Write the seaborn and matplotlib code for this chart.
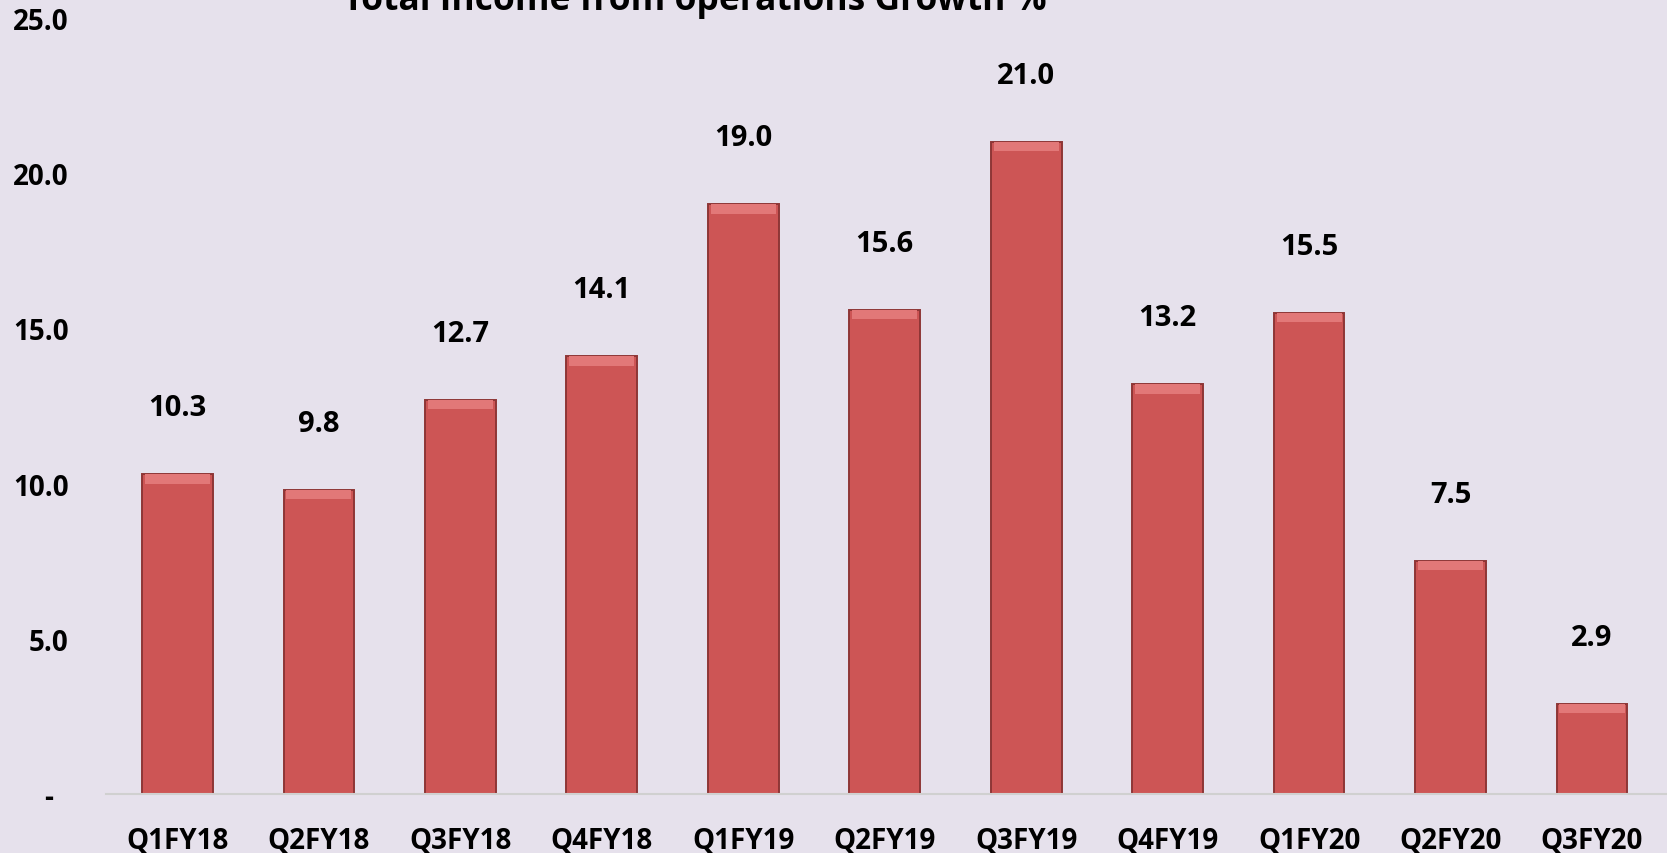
import matplotlib
matplotlib.use("Agg")
import matplotlib.pyplot as plt
import seaborn as sns
import numpy as np
import pandas as pd

quarters = ["Q1FY18", "Q2FY18", "Q3FY18", "Q4FY18", "Q1FY19", "Q2FY19",
            "Q3FY19", "Q4FY19", "Q1FY20", "Q2FY20", "Q3FY20"]
growth = [10.3, 9.8, 12.7, 14.1, 19.0, 15.6, 21.0, 13.2, 15.5, 7.5, 2.9]
yticks = [0, 5, 10, 15, 20, 25]
ytick_labels = ["-  ", "5.0", "10.0", "15.0", "20.0", "25.0"]
title = "Total Income from operations Growth %"

bg = "#E6E1EC"
bar_color = "#CD5555"

sns.set_theme(style="white")
plt.rcParams["font.family"] = ["Open Sans", "DejaVu Sans"]

df = pd.DataFrame({"quarter": quarters, "growth": growth})

fig = plt.figure(figsize=(16.67, 8.54), dpi=100, facecolor=bg)
ax = fig.add_axes([0.0636, 0.0691, 0.9364, 0.9087])
ax.set_facecolor(bg)

sns.barplot(data=df, x="quarter", y="growth", color=bar_color, width=0.5,
            saturation=1, edgecolor="#8E3636", linewidth=1.4, ax=ax)

# subtle bevel highlight at top of each bar
vals = np.array(growth)
xs = np.arange(len(quarters))
ax.bar(xs, 0.3, bottom=vals - 0.3, width=0.46, color="#E27878", linewidth=0, zorder=3)

for x, v in zip(xs, growth):
    ax.annotate(f"{v:.1f}", (x, v), xytext=(0, 48), textcoords="offset points",
                ha="center", va="center", fontsize=21, fontweight="bold", color="black")

ax.set_xlim(-0.505, 10.53)
ax.set_ylim(0, 25)
ax.set_yticks(yticks)
ax.set_yticklabels(ytick_labels, fontsize=20, fontweight="bold", color="black")
ax.set_xticklabels(quarters, fontsize=20, fontweight="bold", color="black")
ax.tick_params(axis="y", length=0, pad=27)
ax.tick_params(axis="x", length=0, pad=23)
ax.set_xlabel("")
ax.set_ylabel("")
for s in ["top", "right", "left"]:
    ax.spines[s].set_visible(False)
ax.spines["bottom"].set_color("#D0D0D0")
ax.spines["bottom"].set_linewidth(1.5)

fig.text(0.417, 0.988, title, ha="center", va="baseline", fontsize=25.5,
         fontweight="bold", color="black")

fig.savefig("out.png", dpi=100, facecolor=bg)
